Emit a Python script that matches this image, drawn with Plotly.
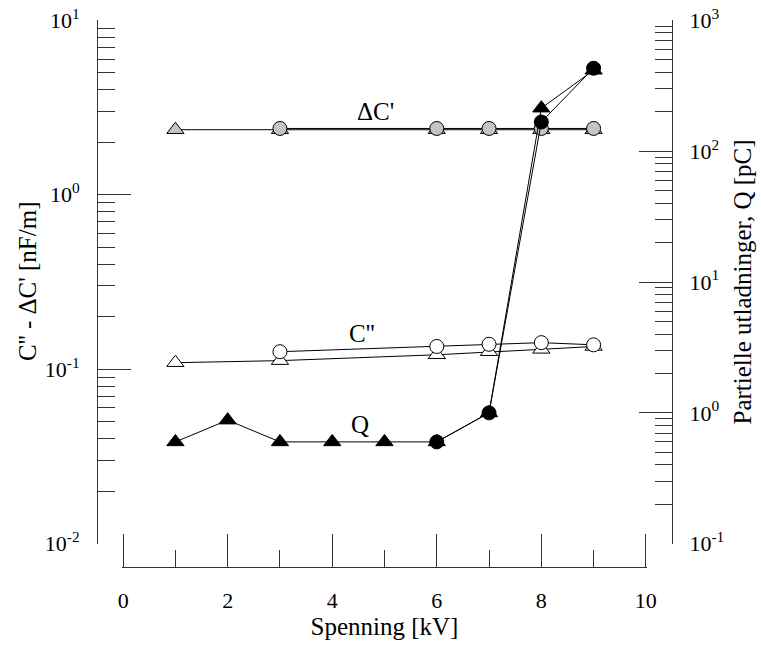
import plotly.graph_objects as go
import numpy as np

# --- data ---
x_c2_tri = [1, 3, 6, 7, 8, 9]
y_c2_tri = [0.109, 0.112, 0.121, 0.126, 0.130, 0.135]
x_c2_circ = [3, 6, 7, 8, 9]
y_c2_circ = [0.126, 0.135, 0.139, 0.142, 0.138]

x_q_tri = [1, 2, 3, 4, 5, 6, 7, 8, 9]
y_q_tri = [0.60, 0.88, 0.60, 0.60, 0.60, 0.60, 1.0, 213, 415]
x_q_circ = [6, 7, 8, 9]
y_q_circ = [0.60, 1.0, 167, 430]

x_dc_tri = [1, 3, 6, 7, 8, 9]
y_dc_tri = [2.36, 2.36, 2.36, 2.36, 2.36, 2.36]
x_dc_circ = [3, 6, 7, 8, 9]
y_dc_circ = [2.40, 2.40, 2.40, 2.40, 2.40]

x_ticks = [0, 2, 4, 6, 8, 10]
left_ticks = [0.01, 0.1, 1, 10]
left_text = ["10<sup>-2</sup>", "10<sup>-1</sup>", "10<sup>0</sup>", "10<sup>1</sup>"]
right_ticks = [0.1, 1, 10, 100, 1000]
right_text = ["10<sup>-1</sup>", "10<sup>0</sup>", "10<sup>1</sup>", "10<sup>2</sup>", "10<sup>3</sup>"]

FONT = "Liberation Serif"
LINE = dict(color="black", width=1)


def minor_vals(lo, hi):
    vals = []
    for e in range(lo, hi):
        for m in range(2, 10):
            vals.append(m * 10 ** e)
    return vals


fig = go.Figure()

def add(x, y, symbol, fill, yaxis, size):
    fig.add_trace(go.Scatter(
        x=x, y=y, mode="lines+markers", yaxis=yaxis,
        line=LINE,
        marker=dict(symbol=symbol, size=size, color=fill,
                    line=dict(color="black", width=1)),
        showlegend=False, hoverinfo="skip"))

add(x_c2_tri, y_c2_tri, "triangle-up", "white", "y", 15)
add(x_c2_circ, y_c2_circ, "circle", "white", "y", 14)
add(x_q_tri, y_q_tri, "triangle-up", "black", "y2", 15)
add(x_q_circ, y_q_circ, "circle", "black", "y2", 14)
add(x_dc_tri, y_dc_tri, "triangle-up", "#c4c4c4", "y", 15)
add(x_dc_circ, y_dc_circ, "circle", "#c4c4c4", "y", 14)

tickfont = dict(family=FONT, size=22, color="black")
titlefont = dict(family=FONT, size=25, color="black")
axcol = "#333333"

EPS = 0.02
fig.update_layout(
    width=761, height=646,
    margin=dict(l=97, r=89, t=20, b=79, autoexpand=False),
    paper_bgcolor="white", plot_bgcolor="white",
    font=dict(family=FONT),
    xaxis=dict(
        domain=[(0.5 - EPS) / 11, (10.5 + EPS) / 11], range=[-EPS, 10 + EPS],
        anchor="free", position=0,
        showline=True, linecolor=axcol, linewidth=1,
        showgrid=False, zeroline=False,
        tickmode="array", tickvals=x_ticks,
        ticks="inside", ticklen=33, tickcolor=axcol, tickwidth=1,
        minor=dict(ticks="inside", ticklen=17, dtick=1, tick0=0,
                   tickcolor=axcol, tickwidth=1, showgrid=False),
        tickfont=tickfont, ticklabelstandoff=14,
        title=dict(text="Spenning [kV]", font=titlefont, standoff=0),
        automargin=False,
    ),
    yaxis=dict(
        type="log", range=[-2.002, 1.002], domain=[23 / 547, 1],
        anchor="free", position=0,
        showline=True, linecolor=axcol, linewidth=1,
        showgrid=False, zeroline=False,
        tickmode="array", tickvals=left_ticks, ticktext=left_text,
        ticks="inside", ticklen=33, tickcolor=axcol, tickwidth=1,
        minor=dict(ticks="inside", ticklen=17, tickmode="array",
                   tickvals=minor_vals(-2, 1), tickcolor=axcol,
                   tickwidth=1, showgrid=False),
        tickfont=tickfont, ticklabelstandoff=13,
        automargin=False,
    ),
    yaxis2=dict(
        type="log", range=[-1.002, 3.002], domain=[23 / 547, 1],
        anchor="free", position=1, side="right", overlaying="y",
        showline=True, linecolor=axcol, linewidth=1,
        showgrid=False, zeroline=False,
        tickmode="array", tickvals=right_ticks, ticktext=right_text,
        ticks="inside", ticklen=33, tickcolor=axcol, tickwidth=1,
        minor=dict(ticks="inside", ticklen=17, tickmode="array",
                   tickvals=minor_vals(-1, 3), tickcolor=axcol,
                   tickwidth=1, showgrid=False),
        tickfont=tickfont, ticklabelstandoff=12,
        title=dict(text="Partielle utladninger, Q [pC]", font=titlefont, standoff=10),
        automargin=False,
    ),
)

# left axis title placed precisely
fig.add_annotation(x=(27 - 97) / 575, y=(567 - 282) / 547, xref="paper", yref="paper",
                   text="C'' - ΔC' [nF/m]", textangle=-90, showarrow=False,
                   xanchor="center", yanchor="middle", font=titlefont)

labfont = dict(family=FONT, size=25, color="black")
fig.add_annotation(x=4.82, y=np.log10(2.99), xref="x", yref="y", text="ΔC'",
                   showarrow=False, font=labfont)
fig.add_annotation(x=4.57, y=np.log10(0.160), xref="x", yref="y", text="C''",
                   showarrow=False, font=labfont)
fig.add_annotation(x=4.54, y=np.log10(0.81), xref="x", yref="y2", text="Q",
                   showarrow=False, font=labfont)

fig.write_html("out.html")
